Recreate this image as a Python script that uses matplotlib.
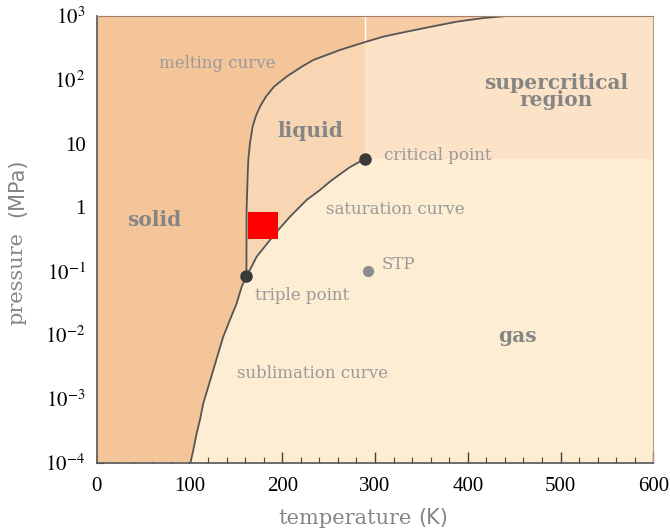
import matplotlib
matplotlib.use("Agg")
import matplotlib.pyplot as plt
from matplotlib.patches import Rectangle

plt.rcParams['font.family'] = ['Liberation Serif', 'DejaVu Serif']
plt.rcParams['mathtext.fontset'] = 'stix'

# phase boundaries (T in K, P in MPa)
melt_T = [161.4, 161.6, 162.7, 163.4, 165.2, 168.1, 171.3, 176.0, 182.4, 191.1, 204.7,
          220.9, 233.4, 262.2, 289.0, 308.9, 334.0, 361.0, 388.0, 414.9, 442.0]
melt_P = [0.083, 0.91, 3.03, 5.53, 10.1, 18.4, 26.4, 37.9, 54.3, 78.0, 112.0,
          160.0, 204.0, 293.0, 389.0, 474.0, 567.0, 680.0, 813.0, 920.0, 1000.0]

sat_T = [161.4, 167.0, 172.4, 186.8, 197.5, 208.3, 215.5, 226.3, 240.6, 251.4, 262.2, 272.9, 289.0]
sat_P = [0.083, 0.118, 0.169, 0.308, 0.475, 0.714, 0.91, 1.31, 1.87, 2.53, 3.31, 4.27, 5.75]

sub_T = [101.3, 104.1, 107.8, 111.3, 114.9, 120.3, 125.6, 131.0, 136.4, 143.6, 150.9, 156.3, 161.4]
sub_P = [1.03e-4, 1.57e-4, 2.9e-4, 4.66e-4, 8.5e-4, 1.55e-3, 2.8e-3, 5.16e-3, 9.4e-3,
         0.0172, 0.0314, 0.0571, 0.083]

triple = (161.4, 0.083)
critical = (289.0, 5.75)
stp = (292.7, 0.102)

# marked box
box_T = [163.0, 195.0]
box_P = [0.324, 0.847]

c_solid = '#F5C59A'
c_solid2 = '#F7CBA4'
c_liquid = '#F8D5B3'
c_super = '#FCE3C8'
c_gas = '#FDEDD3'
c_line = '#555555'
c_text = '#858585'

fig = plt.figure(figsize=(6.7, 5.32), dpi=100)
ax = fig.add_axes([0.1443, 0.1303, 0.8308, 0.8397])
ax.set_facecolor(c_gas)
ax.set_xlim(0, 600)
ax.set_ylim(1e-4, 1e3)
ax.set_yscale('log')

# regions
ax.fill([critical[0], 600, 600, critical[0]], [critical[1], critical[1], 1e3, 1e3],
        color=c_super, lw=0, zorder=1)

n_liq = melt_T.index(289.0)
liq_T = melt_T[:n_liq + 1] + sat_T[::-1]
liq_P = melt_P[:n_liq + 1] + sat_P[::-1]
ax.fill(liq_T, liq_P, color=c_liquid, lw=0, zorder=2)

sol_T = [0] + sub_T + melt_T[1:] + [0]
sol_P = [1e-4] + sub_P + melt_P[1:] + [1e3]
ax.fill(sol_T, sol_P, color=c_solid, lw=0, zorder=2)
ax.fill(melt_T[n_liq:] + [critical[0]], melt_P[n_liq:] + [1e3],
        color=c_solid2, lw=0, zorder=2)
ax.plot([critical[0], critical[0]], [melt_P[n_liq], 1e3], color='white', lw=1.0, zorder=3)

# curves
for T, P in [(melt_T, melt_P), (sat_T, sat_P), (sub_T, sub_P)]:
    ax.plot(T, P, color=c_line, lw=1.3, zorder=4, solid_joinstyle='round')
ax.plot(*triple, 'o', color='#3a3a3a', ms=8, zorder=5)
ax.plot(*critical, 'o', color='#3a3a3a', ms=8, zorder=5)
ax.plot(*stp, 'o', color='#8c8c8c', ms=7, zorder=5)

ax.add_patch(Rectangle((box_T[0], box_P[0]), box_T[1] - box_T[0], box_P[1] - box_P[0],
                       color='#ff0000', lw=0, zorder=6))

# labels
small = dict(color='#9a9a9a', fontsize=12, family='DejaVu Serif', zorder=7)
big = dict(color=c_text, fontsize=14.5, family='DejaVu Serif', fontweight='bold', zorder=7)
ax.text(129.6, 178, 'melting curve', ha='center', va='center', **small)
ax.text(321.7, 0.94, 'saturation curve', ha='center', va='center', **small)
ax.text(233, 0.0025, 'sublimation curve', ha='center', va='center', **small)
ax.text(221, 0.041, 'triple point', ha='center', va='center', **small)
ax.text(309.6, 6.6, 'critical point', ha='left', va='center', **small)
ax.text(307, 0.128, 'STP', ha='left', va='center', **small)
ax.text(230, 15.9, 'liquid', ha='center', va='center', **big)
ax.text(62, 0.63, 'solid', ha='center', va='center', **big)
ax.text(454, 0.0096, 'gas', ha='center', va='center', **big)
ax.text(495, 65, 'supercritical\nregion', ha='center', va='center', linespacing=0.8, **big)

# axes styling
ax.set_xticks(range(0, 601, 100))
ax.set_xticks(range(0, 601, 20), minor=True)
ax.set_yticks([1e-4, 1e-3, 1e-2, 1e-1, 1, 10, 100, 1000])
ax.set_yticklabels([r'$10^{-4}$', r'$10^{-3}$', r'$10^{-2}$', r'$10^{-1}$', '1', '10',
                    r'$10^{\,2}$', r'$10^{3}$'])
ax.yaxis.set_minor_locator(matplotlib.ticker.NullLocator())
ax.tick_params(axis='both', which='both', direction='in', labelsize=15, colors='#444444',
               labelcolor='black')
ax.tick_params(axis='x', which='major', length=8, width=1, pad=10)
ax.tick_params(axis='x', which='minor', length=4, width=0.8)
ax.tick_params(axis='y', which='major', length=5, width=0.8, pad=8)
for s in ['left', 'bottom']:
    ax.spines[s].set_color('#555555')
    ax.spines[s].set_linewidth(1.2)
ax.spines['top'].set_color('#a08068')
ax.spines['right'].set_color('#b39c88')
for s in ax.spines.values():
    s.set_zorder(8)

# axis titles: serif word, sans unit
lab = dict(color=c_text, fontsize=15, family='DejaVu Serif')
unit = dict(color=c_text, fontsize=15, family='DejaVu Sans')
fig.text(412 / 670, 1 - 518 / 532, 'temperature', ha='right', va='center', **lab)
fig.text(418 / 670, 1 - 518 / 532, '(K)', ha='left', va='center', **unit)
fig.text(17 / 670, 1 - 325 / 532, 'pressure', rotation=90, ha='center', va='bottom', **lab)
fig.text(17 / 670, 1 - 158 / 532, '(MPa)', rotation=90, ha='center', va='top', **unit)

fig.savefig('out.png', dpi=100)
